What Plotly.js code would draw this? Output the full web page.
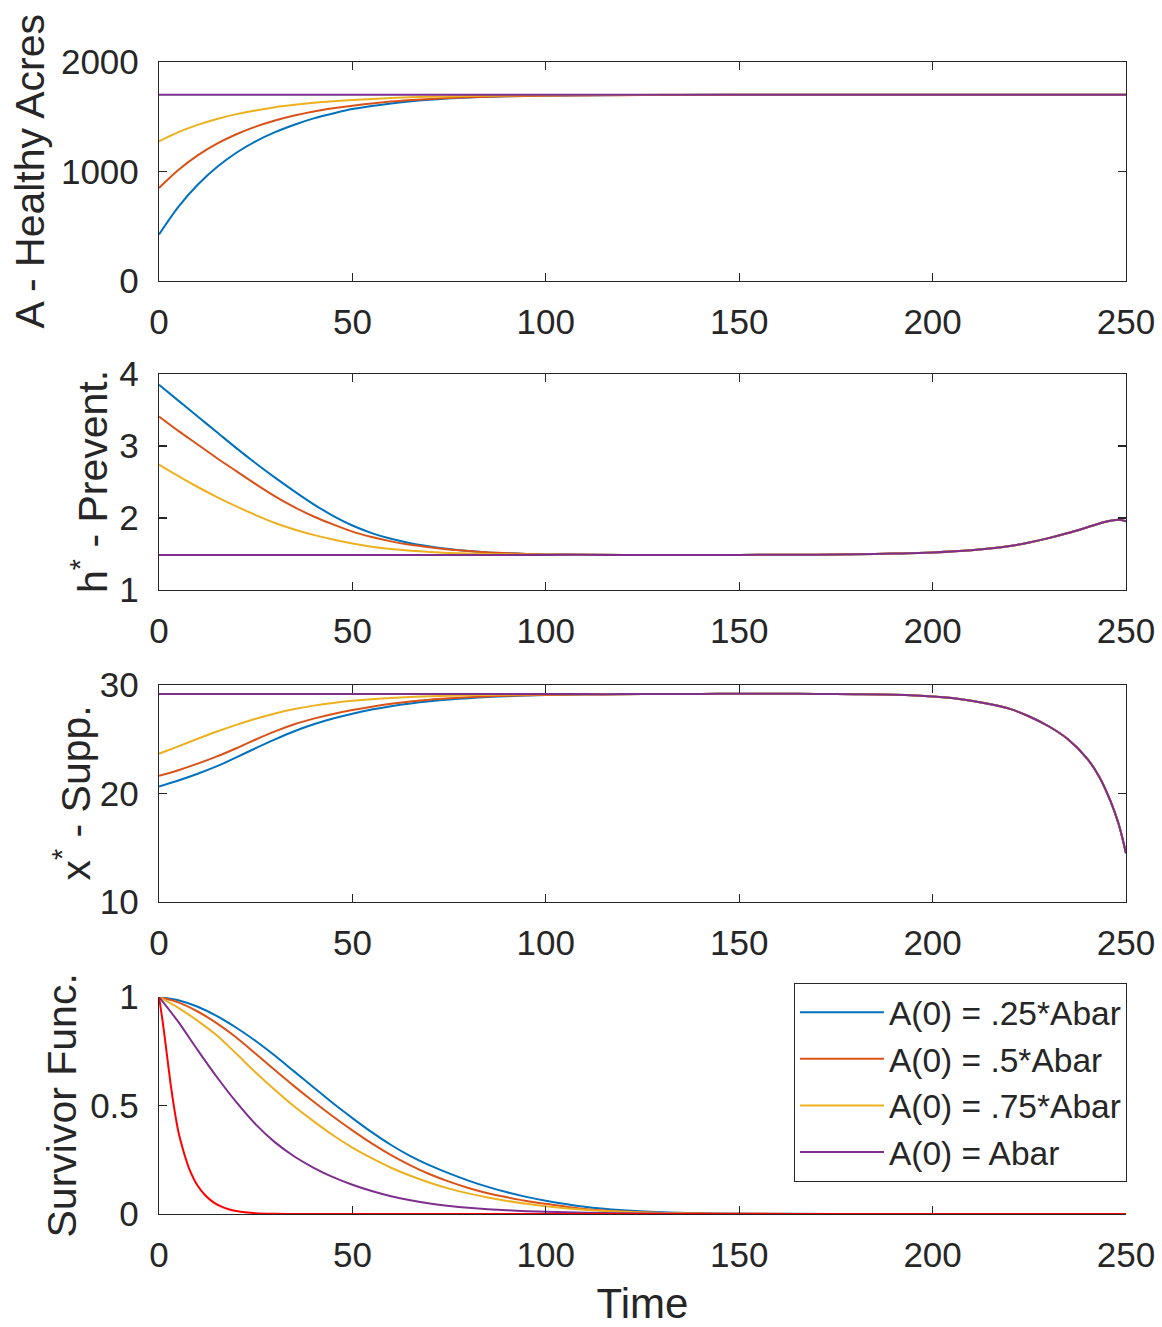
<!DOCTYPE html>
<html>
<head>
<meta charset="utf-8">
<script src="https://cdn.plot.ly/plotly-3.0.1.min.js"></script>
<style>html,body{margin:0;padding:0;background:#fff;}#chart{width:1162px;height:1327px;}</style>
</head>
<body>
<div id="chart"></div>
<script>
// ---------- data ----------
const seriesNames = ['A(0) = .25*Abar', 'A(0) = .5*Abar', 'A(0) = .75*Abar', 'A(0) = Abar'];
const xTicks = [0, 50, 100, 150, 200, 250];

// Panel 1: A - Healthy Acres
const tAcres = [0,5,10,15,20,25,30,35,40,45,50,60,70,80,90,100,110,120,130,140,150,200,250];
const acres25 = [425,677,879,1041,1171,1275,1359,1427,1485,1530,1570,1622,1655,1675,1687,1693,1696,1698,1699,1700,1700,1700,1700];
const acres50 = [850,1014,1147,1254,1340,1410,1466,1511,1548,1577,1601,1640,1663,1678,1687,1692,1695,1697,1698,1699,1700,1700,1700];
const acres75 = [1275,1359,1426,1480,1524,1558,1587,1609,1627,1641,1653,1671,1682,1689,1694,1697,1698,1699,1700,1700,1700,1700,1700];
const acresBar = [1700,1700,1700,1700,1700,1700,1700,1700,1700,1700,1700,1700,1700,1700,1700,1700,1700,1700,1700,1700,1700,1700,1700];

// Panel 2: h* - Prevent.
const tPrev = [0,5,10,15,20,25,30,35,40,45,50,55,60,65,70,75,80,85,90,95,100,110,120,130,140,150,160,170,180,190,200,210,220,225,230,235,240,245,248,250];
const prev25 = [3.85,3.63,3.41,3.19,2.97,2.76,2.56,2.37,2.19,2.03,1.895,1.79,1.71,1.65,1.605,1.568,1.542,1.522,1.51,1.50,1.494,1.49,1.486,1.487,1.486,1.487,1.49,1.49,1.495,1.505,1.52,1.55,1.61,1.66,1.72,1.79,1.87,1.95,1.975,1.955];
const prev50 = [3.41,3.21,3.02,2.83,2.65,2.47,2.30,2.15,2.02,1.91,1.81,1.735,1.675,1.627,1.592,1.563,1.54,1.522,1.51,1.50,1.494,1.49,1.486,1.487,1.486,1.487,1.49,1.49,1.495,1.505,1.52,1.55,1.61,1.66,1.72,1.79,1.87,1.95,1.975,1.955];
const prev75 = [2.74,2.58,2.43,2.29,2.16,2.04,1.93,1.84,1.765,1.70,1.645,1.60,1.568,1.545,1.528,1.515,1.506,1.50,1.495,1.492,1.49,1.489,1.486,1.487,1.486,1.487,1.49,1.49,1.495,1.505,1.52,1.55,1.61,1.66,1.72,1.79,1.87,1.95,1.975,1.955];
const prevBar = [1.486,1.486,1.486,1.486,1.486,1.486,1.486,1.486,1.486,1.486,1.486,1.486,1.486,1.486,1.486,1.486,1.486,1.486,1.486,1.486,1.487,1.488,1.486,1.487,1.486,1.487,1.49,1.49,1.495,1.505,1.52,1.55,1.61,1.66,1.72,1.79,1.87,1.95,1.975,1.955];

// Panel 3: x* - Supp.
const tSupp = [0,5,10,15,20,25,30,35,40,45,50,55,60,65,70,75,80,85,90,95,100,110,120,130,140,150,160,170,180,190,200,205,210,215,220,225,230,235,240,243,246,248,249,250];
const supp25 = [20.65,21.2,21.82,22.52,23.33,24.18,24.99,25.74,26.38,26.91,27.36,27.74,28.05,28.3,28.5,28.66,28.79,28.89,28.97,29.03,29.07,29.12,29.15,29.17,29.18,29.19,29.19,29.18,29.15,29.1,28.95,28.8,28.55,28.22,27.8,27.1,26.2,25.0,23.2,21.6,19.3,17.3,16.0,14.5];
const supp50 = [21.64,22.15,22.75,23.42,24.17,24.98,25.73,26.38,26.9,27.33,27.69,28.0,28.27,28.48,28.65,28.77,28.87,28.95,29.01,29.05,29.08,29.12,29.15,29.17,29.18,29.19,29.19,29.18,29.15,29.1,28.95,28.8,28.55,28.22,27.8,27.1,26.2,25.0,23.2,21.6,19.3,17.3,16.0,14.5];
const supp75 = [23.67,24.35,25.05,25.72,26.33,26.89,27.38,27.78,28.1,28.35,28.54,28.69,28.81,28.9,28.97,29.02,29.06,29.09,29.11,29.13,29.14,29.14,29.15,29.17,29.18,29.19,29.19,29.18,29.15,29.1,28.95,28.8,28.55,28.22,27.8,27.1,26.2,25.0,23.2,21.6,19.3,17.3,16.0,14.5];
const suppBar = [29.16,29.16,29.16,29.16,29.16,29.16,29.16,29.16,29.16,29.16,29.16,29.16,29.16,29.16,29.16,29.16,29.16,29.16,29.16,29.16,29.16,29.16,29.16,29.17,29.18,29.19,29.19,29.18,29.15,29.1,28.95,28.8,28.55,28.22,27.8,27.1,26.2,25.0,23.2,21.6,19.3,17.3,16.0,14.5];

// Panel 4: Survivor Func.
const tSurv = [0,5,10,15,20,25,30,35,40,45,50,55,60,65,70,75,80,85,90,95,100,110,120,130,140,150,175,200,250];
const surv25 = [1,0.985,0.955,0.912,0.858,0.797,0.729,0.656,0.583,0.51,0.442,0.377,0.318,0.267,0.224,0.187,0.154,0.125,0.1,0.079,0.061,0.033,0.017,0.008,0.004,0.002,0,0,0];
const surv50 = [1,0.975,0.933,0.878,0.813,0.738,0.662,0.588,0.517,0.449,0.385,0.325,0.271,0.224,0.183,0.149,0.12,0.096,0.077,0.06,0.047,0.023,0.011,0.005,0.002,0.001,0,0,0];
const surv75 = [1,0.95,0.89,0.822,0.738,0.652,0.571,0.495,0.427,0.363,0.306,0.257,0.213,0.176,0.144,0.117,0.095,0.076,0.06,0.047,0.036,0.02,0.01,0.005,0.002,0.001,0,0,0];
const survBar = [1,0.885,0.755,0.63,0.515,0.413,0.33,0.265,0.213,0.17,0.135,0.106,0.082,0.063,0.048,0.037,0.029,0.022,0.017,0.013,0.01,0.006,0.003,0.002,0.001,0,0,0,0];
const tSurvRed = [0,1,2,3,4,5,6,7,8,10,12,14,16,18,20,25,30,35,50,100,150,200,250];
const survRed = [1,0.88,0.74,0.60,0.48,0.38,0.31,0.25,0.2,0.13,0.085,0.055,0.035,0.022,0.014,0.004,0.001,0,0,0,0,0,0];

// ---------- styling ----------
const colors = ['#0072BD', '#D95319', '#EDB120', '#7E2F8E'];
const redColor = '#FF0000';
const axisColor = '#262626';
const fontFamily = 'Liberation Sans, Arial, Helvetica, sans-serif';

const panels = [
  {t: tAcres, ys: [acres25, acres50, acres75, acresBar], xa: 'x', ya: 'y'},
  {t: tPrev, ys: [prev25, prev50, prev75, prevBar], xa: 'x2', ya: 'y2'},
  {t: tSupp, ys: [supp25, supp50, supp75, suppBar], xa: 'x3', ya: 'y3'},
  {t: tSurv, ys: [surv25, surv50, surv75, survBar], xa: 'x4', ya: 'y4'}
];

const traces = [];
panels.forEach((p, pi) => {
  p.ys.forEach((y, si) => {
    traces.push({
      type: 'scatter', mode: 'lines', x: p.t, y: y,
      xaxis: p.xa, yaxis: p.ya,
      name: seriesNames[si],
      showlegend: pi === 3,
      line: {color: colors[si], width: 2, shape: 'spline', smoothing: 0.8},
      hoverinfo: 'skip'
    });
  });
});
traces.push({
  type: 'scatter', mode: 'lines', x: tSurvRed, y: survRed,
  xaxis: 'x4', yaxis: 'y4', showlegend: false, name: 'red',
  line: {color: redColor, width: 2, shape: 'spline', smoothing: 0.8},
  hoverinfo: 'skip'
});

function xAxis(anchor, mirror) {
  return {
    anchor: anchor, domain: [0, 1], range: [0, 250],
    tickmode: 'array', tickvals: xTicks, ticktext: xTicks.map(String),
    ticks: 'inside', ticklen: 8, tickwidth: 1.2, tickcolor: axisColor,
    showline: true, linecolor: axisColor, linewidth: 1.2, mirror: mirror,
    showgrid: false, zeroline: false,
    tickfont: {size: 35, color: axisColor, family: fontFamily},
    ticklabelstandoff: 10
  };
}
function yAxis(anchor, domain, range, vals, mirror) {
  return {
    anchor: anchor, domain: domain, range: range,
    tickmode: 'array', tickvals: vals, ticktext: vals.map(String),
    ticks: 'inside', ticklen: 8, tickwidth: 1.2, tickcolor: axisColor,
    showline: true, linecolor: axisColor, linewidth: 1.2, mirror: mirror,
    showgrid: false, zeroline: false,
    tickfont: {size: 35, color: axisColor, family: fontFamily},
    ticklabelstandoff: 12
  };
}

const yTitles = ['A - Healthy Acres', 'h<sup>*</sup> - Prevent.', 'x<sup>*</sup> - Supp.', 'Survivor Func.'];
const yTitleX = [30, 90, 72, 62];
const domains = [[0.8099, 1], [0.5417, 0.7292], [0.2708, 0.4592], [0, 0.1884]];

const layout = {
  width: 1162, height: 1327,
  margin: {l: 159, r: 36, t: 62, b: 113},
  paper_bgcolor: '#fff', plot_bgcolor: '#fff',
  font: {family: fontFamily, color: axisColor, size: 35},
  showlegend: true,
  xaxis: xAxis('y', 'ticks'),
  xaxis2: xAxis('y2', 'ticks'),
  xaxis3: xAxis('y3', 'ticks'),
  xaxis4: Object.assign(xAxis('y4', false), {title: {text: 'Time', font: {size: 42, color: axisColor, family: fontFamily}, standoff: 18}}),
  yaxis: yAxis('x', domains[0], [0, 2000], [0, 1000, 2000], 'ticks'),
  yaxis2: yAxis('x2', domains[1], [1, 4], [1, 2, 3, 4], 'ticks'),
  yaxis3: yAxis('x3', domains[2], [10, 30], [10, 20, 30], 'ticks'),
  yaxis4: Object.assign(yAxis('x4', domains[3], [0, 1], [0, 0.5, 1], false), {ticktext: ['0', '0.5', '1']}),
  legend: {
    x: 1.001, y: 0.2005, xanchor: 'right', yanchor: 'top',
    bgcolor: '#fff', bordercolor: axisColor, borderwidth: 1,
    font: {size: 33.5, color: axisColor, family: fontFamily},
    itemwidth: 84, tracegroupgap: 0
  },
  annotations: yTitles.map((txt, i) => ({
    text: txt, textangle: -90, showarrow: false,
    xref: 'paper', yref: 'paper',
    x: (yTitleX[i] - 159) / 967, y: (domains[i][0] + domains[i][1]) / 2,
    xanchor: 'center', yanchor: 'middle',
    font: {size: 41, color: axisColor, family: fontFamily}
  }))
};

Plotly.newPlot('chart', traces, layout, {staticPlot: true, displayModeBar: false});
</script>
</body>
</html>
